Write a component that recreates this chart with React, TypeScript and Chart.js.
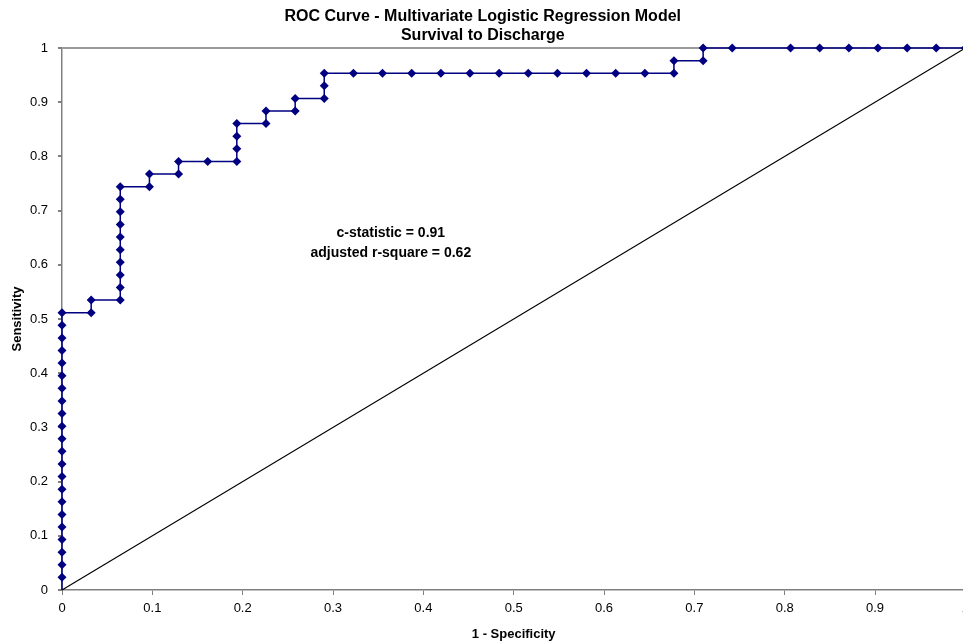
import React, { useEffect, useRef } from "react";
import { Chart, registerables } from "chart.js";

Chart.register(...registerables);

// 1 - specificity (x) and sensitivity (y) for each ROC point
const fpr = [
  0, 0, 0, 0, 0, 0, 0, 0, 0, 0, 0, 0, 0, 0, 0, 0, 0, 0, 0, 0, 0, 0, 0,
  0.0323, 0.0323, 0.0645, 0.0645, 0.0645, 0.0645, 0.0645, 0.0645, 0.0645, 0.0645, 0.0645, 0.0645,
  0.0968, 0.0968, 0.129, 0.129, 0.1613, 0.1935, 0.1935, 0.1935, 0.1935,
  0.2258, 0.2258, 0.2581, 0.2581, 0.2903, 0.2903, 0.2903,
  0.3226, 0.3548, 0.3871, 0.4194, 0.4516, 0.4839, 0.5161, 0.5484, 0.5806, 0.6129, 0.6452, 0.6774,
  0.6774, 0.7097, 0.7097, 0.7419, 0.8065, 0.8387, 0.871, 0.9032, 0.9355, 0.9677, 1,
];
const sensitivity = [
  0, 0.0233, 0.0465, 0.0698, 0.093, 0.1163, 0.1395, 0.1628, 0.186, 0.2093, 0.2326, 0.2558,
  0.2791, 0.3023, 0.3256, 0.3488, 0.3721, 0.3953, 0.4186, 0.4419, 0.4651, 0.4884, 0.5116,
  0.5116, 0.5349, 0.5349, 0.5581, 0.5814, 0.6047, 0.6279, 0.6512, 0.6744, 0.6977, 0.7209, 0.7442,
  0.7442, 0.7674, 0.7674, 0.7907, 0.7907, 0.7907, 0.814, 0.8372, 0.8605,
  0.8605, 0.8837, 0.8837, 0.907, 0.907, 0.9302, 0.9535,
  0.9535, 0.9535, 0.9535, 0.9535, 0.9535, 0.9535, 0.9535, 0.9535, 0.9535, 0.9535, 0.9535, 0.9535,
  0.9767, 0.9767, 1, 1, 1, 1, 1, 1, 1, 1, 1,
];
// reference (chance) diagonal
const diagX = [0, 1];
const diagY = [0, 1];

const titleLines = ["ROC Curve - Multivariate Logistic Regression Model", "Survival to Discharge"];
const xTitle = "1 - Specificity";
const yTitle = "Sensitivity";
const annotationLines = ["c-statistic = 0.91", "adjusted r-square = 0.62"];
const annotX = 0.364;
const annotY = [0.659, 0.622];

const FONT = "'Liberation Sans', Arial, Helvetica, sans-serif";

const fmtTick = (v: any) => String(Math.round(Number(v) * 10) / 10);

const annotationPlugin = {
  id: "rocAnnotation",
  afterDatasetsDraw(chart: any) {
    const { ctx, scales } = chart;
    ctx.save();
    ctx.font = `bold 14px ${FONT}`;
    ctx.fillStyle = "#000";
    ctx.textAlign = "center";
    ctx.textBaseline = "middle";
    annotationLines.forEach((t, i) => {
      ctx.fillText(t, scales.x.getPixelForValue(annotX), scales.y.getPixelForValue(annotY[i]));
    });
    ctx.restore();
  },
};

export default function App() {
  const ref = useRef<HTMLCanvasElement | null>(null);
  useEffect(() => {
    if (!ref.current) return;
    const curve = fpr.map((x, i) => ({ x, y: sensitivity[i] }));
    const diag = diagX.map((x, i) => ({ x, y: diagY[i] }));
    const chart = new Chart(ref.current, {
      type: "scatter",
      data: {
        datasets: [
          {
            data: diag,
            showLine: true,
            borderColor: "#000",
            borderWidth: 1.1,
            pointRadius: 0,
            clip: false as any,
          },
          {
            data: curve,
            showLine: true,
            borderColor: "#000080",
            borderWidth: 1.5,
            pointStyle: "rectRot",
            pointRadius: (c: any) => (c.dataIndex === 0 ? 0 : 4.5),
            pointBackgroundColor: "#000080",
            pointBorderColor: "#000080",
            pointBorderWidth: 0,
            clip: false as any,
          },
        ],
      },
      options: {
        animation: false,
        responsive: false,
        layout: { padding: { left: 0, right: 9.5, top: 0, bottom: 0 } },
        plugins: {
          legend: { display: false },
          tooltip: { enabled: false },
          title: {
            display: true,
            text: titleLines,
            color: "#000",
            font: { family: FONT, size: 16, weight: "bold", lineHeight: 1.2 },
            padding: { top: 7, bottom: 2.6 },
          },
        },
        scales: {
          x: {
            type: "linear",
            min: 0,
            max: 1,
            ticks: {
              stepSize: 0.1,
              color: "#000",
              font: { family: FONT, size: 13 },
              padding: 6,
              maxRotation: 0,
              callback: fmtTick,
            },
            grid: { display: true, drawOnChartArea: false, tickLength: 5, tickColor: "#808080" },
            border: { color: "#808080", width: 1.5 },
            title: {
              display: true,
              text: xTitle,
              color: "#000",
              font: { family: FONT, size: 13, weight: "bold" },
              padding: { top: 0, bottom: 0 },
            },
            afterFit: (s: any) => {
              s.height = 52;
            },
          },
          y: {
            type: "linear",
            min: 0,
            max: 1,
            ticks: {
              stepSize: 0.1,
              color: "#000",
              font: { family: FONT, size: 13 },
              padding: 10,
              callback: fmtTick,
            },
            grid: {
              display: true,
              drawOnChartArea: true,
              tickLength: 4,
              tickColor: "#808080",
              lineWidth: 2,
              color: (c: any) => (c.tick && c.tick.value === 1 ? "#9a9a9a" : "rgba(0,0,0,0)"),
            },
            border: { color: "#808080", width: 1.5 },
            title: {
              display: true,
              text: yTitle,
              color: "#000",
              font: { family: FONT, size: 13, weight: "bold" },
              padding: { top: 10, bottom: 0 },
            },
            afterFit: (s: any) => {
              s.width = 62;
            },
          },
        },
      },
      plugins: [annotationPlugin],
    } as any);
    return () => chart.destroy();
  }, []);
  return (
    <div style={{ position: "absolute", left: 0, top: 0, width: 963, height: 642, overflow: "hidden", background: "#fff" }}>
      <canvas ref={ref} width={975} height={642} style={{ display: "block" }} />
    </div>
  );
}
